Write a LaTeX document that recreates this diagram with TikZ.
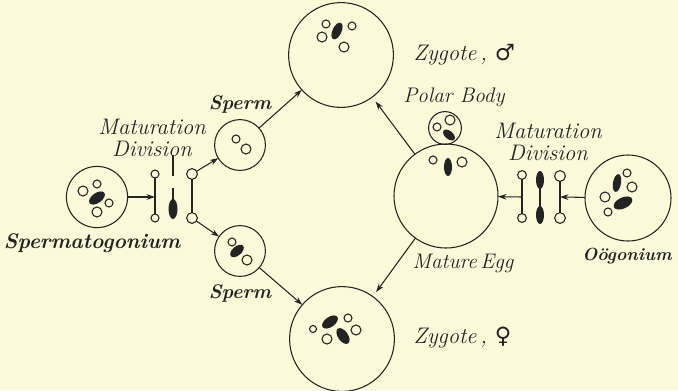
\documentclass[tikz,border=0pt]{standalone}
\usepackage{fontspec}
\newfontfamily\symfont{DejaVu Sans}
\usetikzlibrary{arrows.meta}
\definecolor{paper}{RGB}{250,249,216}
\definecolor{ink}{RGB}{35,35,35}
\tikzset{
  cell/.style={draw=ink, circle, inner sep=0pt, outer sep=0pt},
  dot/.style={draw=ink, circle, inner sep=0pt, outer sep=0pt, minimum size=#1},
  link/.style={-{Stealth[length=6pt,width=4pt]}, ink},
  bold label/.style={font=\bfseries\itshape\fontsize{#1}{#1}\selectfont, text=ink, inner sep=0pt},
  ital label/.style={font=\itshape\fontsize{#1}{#1}\selectfont, text=ink, inner sep=0pt},
}
\begin{document}
\begin{tikzpicture}[x=0.025cm, y=-0.025cm, line width=0.75pt]
\fill[paper] (0,0) rectangle (678,390);
\useasboundingbox (0,0) rectangle (678,390);

% spermatogonium
\node[cell, minimum size=1.53cm] (sg) at (97,197) {};
\fill[ink, rotate around={35:(97,198)}] (97,198) ellipse (9 and 5);
\draw[ink] (83,191) circle (5) (97,184) circle (4) (109,203) circle (4) (97,212) circle (5);
\node[bold label=15] (sglab) at (92,243) {Spermatogonium};

% maturation division, male side
\node[dot=0.2cm] (lt) at (155,174) {};
\node[dot=0.2cm] (lb) at (155,218) {};
\draw[ink] (lt) -- (lb);
\coordinate (lmid) at (155,197);
\draw[link] (sg) -- (lmid);
\fill[ink] (173,209) ellipse (4.5 and 10);
\node[dot=0.27cm] (rt) at (192,174) {};
\node[dot=0.27cm] (rb) at (192,218) {};
\draw[ink] (rt) -- (rb);
\node[ital label=16, align=center] (ldiv) at (152,138) {Maturation\\Division};
\coordinate (lp1) at (173,155);
\coordinate (lp2) at (173,176);
\coordinate (lp3) at (173,188);
\coordinate (lp4) at (173,200);
\draw[ink] (lp1) -- (lp2) (lp3) -- (lp4);

% sperm
\node[cell, minimum size=1.27cm] (sp1) at (240,145) {};
\draw[ink] (236,139) circle (4) (246,149) circle (5);
\node[bold label=14] (sp1lab) at (240,104) {Sperm};
\node[cell, minimum size=1.27cm] (sp2) at (240,251) {};
\fill[ink, rotate around={40:(237,251)}] (237,251) ellipse (8 and 4.5);
\draw[ink] (232,242) circle (4) (247,260) circle (5);
\node[bold label=14] (sp2lab) at (240,293) {Sperm};
\draw[link] (rt) -- (sp1);
\draw[link] (rb) -- (sp2);

% zygotes
\node[cell, minimum size=2.62cm] (zm) at (341,55) {};
\fill[ink, rotate around={65:(337,31)}] (337,31) ellipse (9 and 4.5);
\draw[ink] (326,24) circle (4) (352,26) circle (4) (322,37) circle (5) (344,47) circle (5);
\node[ital label=16, anchor=west] (zmlab) at (413,55) {Zygote\,, {\symfont ♂}};

\node[cell, minimum size=2.62cm] (zf) at (342,339) {};
\fill[ink, rotate around={35:(330,322)}] (330,322) ellipse (9 and 5);
\fill[ink, rotate around={-55:(343,336)}] (343,336) ellipse (9 and 5);
\draw[ink] (313,329) circle (3.5) (327,339) circle (5) (348,318) circle (4) (356,330) circle (5);
\node[ital label=16, anchor=west] (zflab) at (413,338) {Zygote\,, {\symfont ♀}};

% mature egg and polar body
\node[cell, minimum size=2.6cm] (egg) at (446,196) {};
\draw[ink] (433,160) circle (4) (462,162) circle (5);
\fill[ink] (448,167) ellipse (4 and 9);
\node[cell, minimum size=0.82cm] (pb) at (445,128) {};
\draw[ink] (437,127) circle (4) (450,120) circle (5);
\fill[ink, rotate around={-40:(449,135)}] (449,135) ellipse (7 and 4);
\node[ital label=15] (pblab) at (454,97) {Polar Body};
\node[ital label=15] (egglab) at (463,263) {Mature\,Egg};

% maturation division, female side
\node[dot=0.22cm] (et) at (522,175) {};
\node[dot=0.22cm] (eb) at (522,218) {};
\draw[ink] (et) -- (eb);
\fill[ink] (540,180) ellipse (4 and 9);
\fill[ink] (540,215) ellipse (4 and 9);
\draw[ink] (540,180) -- (540,215);
\node[dot=0.27cm] (ot) at (560,176) {};
\node[dot=0.27cm] (ob) at (560,218) {};
\draw[ink] (ot) -- (ob);
\node[ital label=16, align=center] (rdiv) at (548,142) {Maturation\\Division};

% oogonium
\node[cell, minimum size=2.15cm] (og) at (628,198) {};
\fill[ink, rotate around={80:(617,183)}] (617,183) ellipse (9 and 4);
\fill[ink, rotate around={25:(623,203)}] (623,203) ellipse (10 and 5.5);
\draw[ink] (627,173) circle (4) (632,187) circle (5) (605,197) circle (5) (608,212) circle (4);
\node[bold label=12.5] (oglab) at (627,256) {Oögonium};

\coordinate (rmid) at (560,197);
\coordinate (emid) at (522,197);
\draw[link] (og) -- (rmid);
\draw[link] (emid) -- (egg);

% paths to fertilisation
\draw[link] (sp1) -- (zm);
\draw[link] (sp2) -- (zf);
\draw[link, shorten >=4pt] (egg) -- (zm);
\draw[link, shorten >=4pt] (egg) -- (zf);
\end{tikzpicture}
\end{document}
